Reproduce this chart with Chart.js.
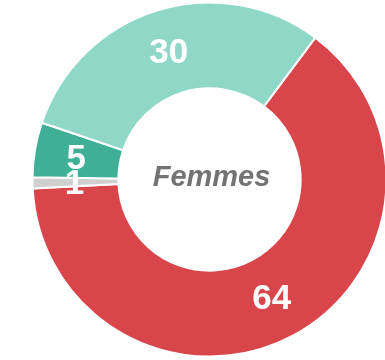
<!DOCTYPE html>
<html>
<head>
<meta charset="utf-8">
<script src="https://cdn.jsdelivr.net/npm/chart.js@4/dist/chart.umd.min.js"></script>
<style>
  html, body { margin: 0; padding: 0; background: #fff; overflow: hidden; }
  #wrap { position: absolute; left: 0; top: 0; width: 419px; height: 359px; }
</style>
</head>
<body>
<div id="wrap"><canvas id="femmesChart" width="419" height="359"></canvas></div>
<script>
const categories = ['Cat. A', 'Cat. B', 'Cat. C', 'Cat. D'];
const values = [64, 1, 5, 30];
const colors = ['#d8464c', '#cfcfcf', '#3faf95', '#8fd8c8'];
const centerTitle = 'Femmes';

// white value labels in the middle of each arc
const arcLabels = {
  id: 'arcLabels',
  afterDatasetsDraw(chart) {
    const ctx = chart.ctx;
    const meta = chart.getDatasetMeta(0);
    ctx.save();
    ctx.fillStyle = '#ffffff';
    ctx.font = 'bold 35px "Liberation Sans", Arial, sans-serif';
    ctx.textAlign = 'center';
    ctx.textBaseline = 'middle';
    meta.data.forEach((arc, i) => {
      const p = arc.tooltipPosition();
      ctx.fillText(String(values[i]), p.x - 1, p.y + 2);
    });
    ctx.restore();
  }
};

// title text in the hole
const centerText = {
  id: 'centerText',
  afterDraw(chart) {
    const ctx = chart.ctx;
    const arc = chart.getDatasetMeta(0).data[0];
    ctx.save();
    ctx.fillStyle = '#737373';
    ctx.font = 'italic bold 29px "Liberation Sans", Arial, sans-serif';
    ctx.textAlign = 'center';
    ctx.textBaseline = 'middle';
    ctx.fillText(centerTitle, arc.x + 2, arc.y - 2);
    ctx.restore();
  }
};

new Chart(document.getElementById('femmesChart'), {
  type: 'doughnut',
  data: {
    labels: categories,
    datasets: [{
      data: values,
      backgroundColor: colors,
      borderColor: '#ffffff',
      borderWidth: 2
    }]
  },
  options: {
    responsive: false,
    animation: false,
    rotation: 36.7,
    radius: 177,
    cutout: '51.5%',
    plugins: {
      legend: { display: false },
      tooltip: { enabled: false }
    }
  },
  plugins: [arcLabels, centerText]
});
</script>
</body>
</html>
